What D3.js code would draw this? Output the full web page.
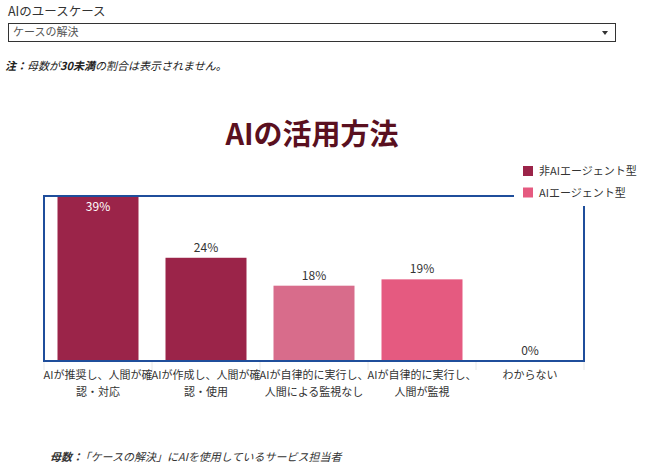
<!DOCTYPE html>
<html>
<head>
<meta charset="utf-8">
<script src="https://cdn.jsdelivr.net/npm/d3@7"></script>
<style>
  body { margin: 0; background: #fff; }
  text { font-family: "Noto Sans CJK JP", "Noto Sans", sans-serif; }
</style>
</head>
<body>
<div id="chart-area"></div>
<script>
// Data ---------------------------------------------------
const categories = ["推奨・確認", "作成・確認", "自律・監視なし", "自律・監視", "わからない"]
const categoryLabels = [
  ["AIが推奨し、人間が確", "認・対応"],
  ["AIが作成し、人間が確", "認・使用"],
  ["AIが自律的に実行し、", "人間による監視なし"],
  ["AIが自律的に実行し、", "人間が監視"],
  ["わからない"]
]
const shares = [39.0, 24.4, 17.8, 19.3, 0]
const legendItems = ["非AIエージェント型", "AIエージェント型"]

// Styles -------------------------------------------------
const barColors = ["#9b2449", "#9b2449", "#d86c8b", "#e55a80", "#e55a80"]
const legendColors = ["#9b2449", "#e55a80"]

// Canvas setup -------------------------------------------
const WIDTH = 653
const HEIGHT = 472
const PLOT = {LEFT: 44, RIGHT: 584, TOP: 196, BOTTOM: 361}

const svg = d3.select("#chart-area").append("svg")
    .attr("width", WIDTH)
    .attr("height", HEIGHT)

// Header: filter + note ----------------------------------
svg.append("text")
    .attr("x", 8).attr("y", 16)
    .attr("font-size", 12.5).attr("fill", "#333")
    .text("AIのユースケース")

svg.append("rect")
    .attr("x", 8.5).attr("y", 23.5)
    .attr("width", 607).attr("height", 18)
    .attr("fill", "#fff").attr("stroke", "#333")

svg.append("text")
    .attr("x", 13).attr("y", 36)
    .attr("font-size", 11).attr("fill", "#555")
    .text("ケースの解決")

svg.append("path")
    .attr("d", "M602,31 L608,31 L605,35 Z")
    .attr("fill", "#333")

const note = svg.append("text")
    .attr("x", 5).attr("y", 70)
    .attr("font-size", 11).attr("fill", "#222")
    .attr("font-style", "italic")
note.append("tspan").attr("font-weight", "bold").text("注：")
note.append("tspan").text("母数が")
note.append("tspan").attr("font-weight", "bold").text("30未満")
note.append("tspan").text("の割合は表示されません。")

// Title --------------------------------------------------
svg.append("text")
    .attr("x", 312).attr("y", 145)
    .attr("text-anchor", "middle")
    .attr("font-size", 29).attr("font-weight", "bold")
    .attr("fill", "#5a1020")
    .text("AIの活用方法")

// Scales -------------------------------------------------
const xScale = d3.scaleBand()
    .domain(categories)
    .range([PLOT.LEFT, PLOT.RIGHT])
    .paddingInner(0.25)
    .paddingOuter(0.125)

const yScale = d3.scaleLinear()
    .domain([0, 39])
    .range([PLOT.BOTTOM, PLOT.TOP])

const half = xScale.step() * xScale.paddingInner() / 2

// category separators below the plot
svg.append("g")
    .selectAll("line")
    .data(categories.concat([null]))
    .enter().append("line")
    .attr("x1", (d, i) => i < categories.length ? xScale(d) - half : PLOT.RIGHT)
    .attr("x2", (d, i) => i < categories.length ? xScale(d) - half : PLOT.RIGHT)
    .attr("y1", PLOT.BOTTOM)
    .attr("y2", 370)
    .attr("stroke", "#e8e8e8")

// Bars ---------------------------------------------------
svg.append("g")
    .selectAll("rect")
    .data(shares)
    .enter().append("rect")
    .attr("x", (d, i) => xScale(categories[i]))
    .attr("y", d => yScale(d))
    .attr("width", xScale.bandwidth())
    .attr("height", d => PLOT.BOTTOM - yScale(d))
    .attr("fill", (d, i) => barColors[i])

// value labels: inside the bar when it reaches the top
svg.append("g")
    .selectAll("text")
    .data(shares)
    .enter().append("text")
    .attr("x", (d, i) => xScale(categories[i]) + xScale.bandwidth() / 2)
    .attr("y", d => yScale(d) < PLOT.TOP + 10 ? yScale(d) + 15 : yScale(d) - 6)
    .attr("text-anchor", "middle")
    .attr("font-size", 12)
    .attr("fill", d => yScale(d) < PLOT.TOP + 10 ? "#fff" : "#333")
    .text(d => Math.round(d) + "%")

// Category labels ----------------------------------------
const labelG = svg.append("g")
    .selectAll("text")
    .data(categoryLabels)
    .enter().append("text")
    .attr("x", (d, i) => xScale(categories[i]) + xScale.bandwidth() / 2)
    .attr("y", 379)
    .attr("text-anchor", "middle")
    .attr("font-size", 11)
    .attr("fill", "#333")

labelG.selectAll("tspan")
    .data(d => d)
    .enter().append("tspan")
    .attr("x", function() { return this.parentNode.getAttribute("x") })
    .attr("dy", (d, i) => i === 0 ? 0 : 17)
    .text(d => d)

// Highlight box ------------------------------------------
svg.append("rect")
    .attr("x", PLOT.LEFT)
    .attr("y", PLOT.TOP)
    .attr("width", PLOT.RIGHT - PLOT.LEFT)
    .attr("height", PLOT.BOTTOM - PLOT.TOP)
    .attr("fill", "none")
    .attr("stroke", "#1f4e9b")
    .attr("stroke-width", 2)

// Legend -------------------------------------------------
svg.append("rect")
    .attr("x", 514).attr("y", 158)
    .attr("width", 139).attr("height", 48)
    .attr("fill", "#fff")

const legend = svg.append("g")
    .selectAll("g")
    .data(legendItems)
    .enter().append("g")
    .attr("transform", (d, i) => `translate(523, ${166 + i * 21.5})`)

legend.append("rect")
    .attr("width", 10).attr("height", 10)
    .attr("fill", (d, i) => legendColors[i])

legend.append("text")
    .attr("x", 16).attr("y", 9)
    .attr("font-size", 11).attr("fill", "#333")
    .text(d => d)

// Footer -------------------------------------------------
const footer = svg.append("text")
    .attr("x", 50).attr("y", 461)
    .attr("font-size", 11).attr("fill", "#333")
    .attr("font-style", "italic")
footer.append("tspan").attr("font-weight", "bold").text("母数：")
footer.append("tspan").attr("dx", 2).text("「ケースの解決」にAIを使用しているサービス担当者")
</script>
</body>
</html>
